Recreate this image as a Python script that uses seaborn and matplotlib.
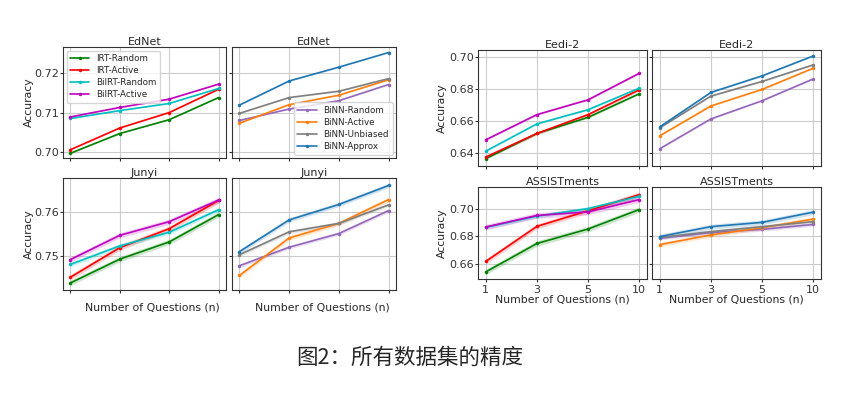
import matplotlib
matplotlib.use("Agg")
import matplotlib.pyplot as plt
import seaborn as sns
import numpy as np

# ---------------- data ----------------
n_questions = ["1", "3", "5", "10"]

left_methods = ["IRT-Random", "IRT-Active", "BiIRT-Random", "BiIRT-Active"]
right_methods = ["BiNN-Random", "BiNN-Active", "BiNN-Unbiased", "BiNN-Approx"]

# EdNet
ednet_irt_random = [0.6998, 0.7048, 0.7083, 0.7139]
ednet_irt_active = [0.7007, 0.7062, 0.7101, 0.7160]
ednet_biirt_random = [0.7086, 0.7106, 0.7124, 0.7162]
ednet_biirt_active = [0.7090, 0.7114, 0.7135, 0.7173]
ednet_binn_random = [0.7081, 0.7110, 0.7131, 0.7172]
ednet_binn_active = [0.7074, 0.7121, 0.7145, 0.7184]
ednet_binn_unbiased = [0.7099, 0.7139, 0.7155, 0.7187]
ednet_binn_approx = [0.7120, 0.7181, 0.7216, 0.7253]

# Junyi
junyi_irt_random = [0.7440, 0.7494, 0.7533, 0.7595]
junyi_irt_active = [0.7453, 0.7520, 0.7563, 0.7627]
junyi_biirt_random = [0.7482, 0.7524, 0.7555, 0.7606]
junyi_biirt_active = [0.7493, 0.7548, 0.7579, 0.7628]
junyi_binn_random = [0.7479, 0.7521, 0.7552, 0.7604]
junyi_binn_active = [0.7457, 0.7542, 0.7575, 0.7629]
junyi_binn_unbiased = [0.7504, 0.7556, 0.7575, 0.7617]
junyi_binn_approx = [0.7511, 0.7583, 0.7618, 0.7661]

# Eedi-2
eedi_irt_random = [0.6365, 0.6523, 0.6624, 0.6772]
eedi_irt_active = [0.6375, 0.6523, 0.6641, 0.6797]
eedi_biirt_random = [0.6412, 0.6583, 0.6672, 0.6807]
eedi_biirt_active = [0.6483, 0.6641, 0.6734, 0.6900]
eedi_binn_random = [0.6427, 0.6614, 0.6728, 0.6865]
eedi_binn_active = [0.6508, 0.6695, 0.6799, 0.6932]
eedi_binn_unbiased = [0.6558, 0.6757, 0.6849, 0.6953]
eedi_binn_approx = [0.6564, 0.6780, 0.6884, 0.7009]

# ASSISTments
assist_irt_random = [0.6543, 0.6749, 0.6854, 0.6995]
assist_irt_active = [0.6619, 0.6873, 0.6986, 0.7103]
assist_biirt_random = [0.6866, 0.6947, 0.7002, 0.7091]
assist_biirt_active = [0.6868, 0.6952, 0.6978, 0.7067]
assist_binn_random = [0.6787, 0.6828, 0.6851, 0.6887]
assist_binn_active = [0.6741, 0.6811, 0.6863, 0.6926]
assist_binn_unbiased = [0.6792, 0.6835, 0.6871, 0.6907]
assist_binn_approx = [0.6799, 0.6871, 0.6902, 0.6976]

# half-widths of the shaded uncertainty bands (per dataset, per method)
ednet_band = [0.0001, 0.0001, 0.0001, 0.0001]
junyi_band_left = [0.0006, 0.0006, 0.0005, 0.0006]
junyi_band_right = [0.0004, 0.0005, 0.0004, 0.0005]
eedi_band_left = [0.0006, 0.0010, 0.0005, 0.0005]
eedi_band_right = [0.0004, 0.0004, 0.0004, 0.0004]
assist_band_left = [0.0020, 0.0018, 0.0013, 0.0020]
assist_band_right = [0.0013, 0.0015, 0.0012, 0.0018]

left_colors = ["#008000", "#ff0000", "#00bfbf", "#bf00bf"]
right_colors = ["#9467bd", "#ff7f0e", "#7f7f7f", "#1f77b4"]

# ---------------- style ----------------
sns.set_style("whitegrid", {
    "axes.edgecolor": "0.2",
    "grid.color": "0.8",
    "xtick.bottom": True,
    "ytick.left": True,
    "xtick.color": "0.2",
    "ytick.color": "0.2",
    "axes.linewidth": 1.0,
})
plt.rcParams["font.family"] = ["DejaVu Sans"]
plt.rcParams["xtick.direction"] = "out"
plt.rcParams["ytick.direction"] = "out"
plt.rcParams["xtick.major.size"] = 2.5
plt.rcParams["ytick.major.size"] = 2.0

W, H = 841, 408
fig = plt.figure(figsize=(W / 100, H / 100), dpi=100)


def add_ax(x0, x1, y0, y1):
    return fig.add_axes([x0 / W, 1 - y1 / H, (x1 - x0) / W, (y1 - y0) / H])


xs = np.arange(len(n_questions))

TICK_FS = 8
TITLE_FS = 8
LABEL_FS = 7.8


def draw(ax, series, bands, colors, labels, title, ylim, yticks, show_ylabels,
         legend_loc=None, xticklabels=False, xlabel_x=0.5, xlabel_y=None,
         ylabel=False):
    for vals, b, c, lab in zip(series, bands, colors, labels):
        vals = np.asarray(vals)
        sns.lineplot(x=xs, y=vals, color=c, marker=".", markersize=5,
                     markeredgewidth=0, linewidth=1.2, ax=ax, label=lab,
                     legend=False)
        ax.fill_between(xs, vals - b, vals + b, color=c, alpha=0.2, linewidth=0)
    ax.set_xlim(-0.15, 3.15)
    ax.set_ylim(*ylim)
    ax.set_yticks(yticks)
    ax.set_xticks(xs)
    if show_ylabels:
        ax.set_yticklabels([f"{t:.2f}" for t in yticks], fontsize=TICK_FS)
    else:
        ax.set_yticklabels([])
    if xticklabels:
        ax.set_xticklabels(n_questions, fontsize=TICK_FS)
    else:
        ax.set_xticklabels([])
    ax.tick_params(axis="x", pad=1.5)
    ax.tick_params(axis="y", pad=1.0)
    ax.set_title(title, fontsize=TITLE_FS, pad=1.5)
    if ylabel:
        ax.set_ylabel("Accuracy", fontsize=LABEL_FS)
    if xlabel_y is not None:
        ax.set_xlabel("Number of Questions (n)", fontsize=LABEL_FS)
        ax.xaxis.set_label_coords(xlabel_x, xlabel_y)
    if legend_loc:
        ax.legend(loc=legend_loc, fontsize=6.3, handlelength=2.2,
                  borderpad=0.4, labelspacing=0.35, handletextpad=0.8,
                  framealpha=0.8, borderaxespad=0.4)
    for s in ax.spines.values():
        s.set_color("0.2")


# Left block
axA = add_ax(63, 226, 47, 158)
axB = add_ax(232, 396, 47, 158)
axC = add_ax(63, 226, 178, 290)
axD = add_ax(232, 396, 178, 290)
# Right block
axE = add_ax(478, 647, 50, 166)
axF = add_ax(652, 821, 50, 166)
axG = add_ax(478, 647, 187, 279)
axH = add_ax(652, 821, 187, 279)

ednet_lim = (0.6986, 0.7267)
ednet_ticks = [0.70, 0.71, 0.72]
draw(axA, [ednet_irt_random, ednet_irt_active, ednet_biirt_random, ednet_biirt_active],
     [ednet_band] * 4, left_colors, left_methods, "EdNet", ednet_lim, ednet_ticks,
     True, legend_loc="upper left", ylabel=True)
draw(axB, [ednet_binn_random, ednet_binn_active, ednet_binn_unbiased, ednet_binn_approx],
     [ednet_band] * 4, right_colors, right_methods, "EdNet", ednet_lim, ednet_ticks,
     False, legend_loc="lower right")

junyi_lim = (0.7424, 0.7678)
junyi_ticks = [0.75, 0.76]
draw(axC, [junyi_irt_random, junyi_irt_active, junyi_biirt_random, junyi_biirt_active],
     junyi_band_left, left_colors, left_methods, "Junyi", junyi_lim, junyi_ticks,
     True, ylabel=True, xlabel_x=0.55, xlabel_y=-0.11)
draw(axD, [junyi_binn_random, junyi_binn_active, junyi_binn_unbiased, junyi_binn_approx],
     junyi_band_right, right_colors, right_methods, "Junyi", junyi_lim, junyi_ticks,
     False, xlabel_x=0.55, xlabel_y=-0.11)

eedi_lim = (0.6319, 0.7046)
eedi_ticks = [0.64, 0.66, 0.68, 0.70]
draw(axE, [eedi_irt_random, eedi_irt_active, eedi_biirt_random, eedi_biirt_active],
     eedi_band_left, left_colors, left_methods, "Eedi-2", eedi_lim, eedi_ticks,
     True, ylabel=True)
draw(axF, [eedi_binn_random, eedi_binn_active, eedi_binn_unbiased, eedi_binn_approx],
     eedi_band_right, right_colors, right_methods, "Eedi-2", eedi_lim, eedi_ticks,
     False)

assist_lim = (0.6492, 0.7158)
assist_ticks = [0.66, 0.68, 0.70]
draw(axG, [assist_irt_random, assist_irt_active, assist_biirt_random, assist_biirt_active],
     assist_band_left, left_colors, left_methods, "ASSISTments", assist_lim, assist_ticks,
     True, ylabel=True, xticklabels=True, xlabel_x=0.5, xlabel_y=-0.165)
draw(axH, [assist_binn_random, assist_binn_active, assist_binn_unbiased, assist_binn_approx],
     assist_band_right, right_colors, right_methods, "ASSISTments", assist_lim, assist_ticks,
     False, xticklabels=True, xlabel_x=0.5, xlabel_y=-0.165)

for ax in (axA, axC):
    ax.yaxis.set_label_coords(-0.18, 0.5)
for ax in (axE, axG):
    ax.yaxis.set_label_coords(-0.185, 0.5)

fig.text(410 / W, 1 - 358 / H, "图2：所有数据集的精度", ha="center", va="center",
         fontsize=15.5, family=["Noto Sans CJK SC", "DejaVu Sans"])

fig.savefig("out.png", dpi=100)
